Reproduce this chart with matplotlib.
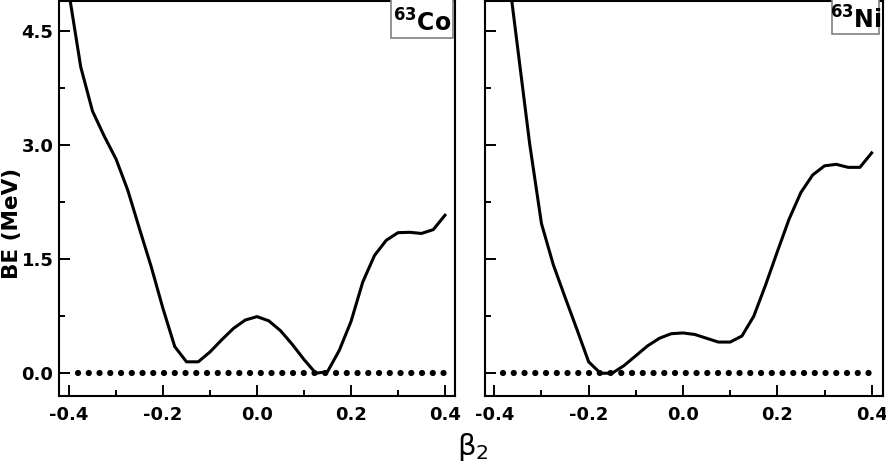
import numpy as np
from matplotlib import pyplot as plt
from matplotlib.patches import Rectangle

# beta_2 grid of the calculation
beta = [-0.4, -0.375, -0.35, -0.325, -0.3, -0.275, -0.25, -0.225, -0.2, -0.175,
        -0.15, -0.125, -0.1, -0.075, -0.05, -0.025, 0.0, 0.025, 0.05, 0.075,
        0.1, 0.125, 0.15, 0.175, 0.2, 0.225, 0.25, 0.275, 0.3, 0.325,
        0.35, 0.375, 0.4]

# 63Co, BE (MeV)
be_co = [5.0, 4.03, 3.45, 3.12, 2.82, 2.41, 1.90, 1.40, 0.85, 0.35,
         0.15, 0.15, 0.28, 0.44, 0.59, 0.70, 0.745, 0.69, 0.56, 0.38,
         0.18, 0.0, 0.02, 0.30, 0.68, 1.20, 1.55, 1.75, 1.85, 1.855,
         1.84, 1.89, 2.08]

# 63Ni, BE (MeV), starts at beta = -0.375
be_ni = [5.5, 4.26, 3.02, 1.97, 1.43, 1.00, 0.58, 0.15, 0.0,
         0.0, 0.10, 0.23, 0.36, 0.46, 0.52, 0.53, 0.51, 0.46, 0.41,
         0.41, 0.49, 0.75, 1.16, 1.60, 2.03, 2.38, 2.61, 2.73, 2.75,
         2.71, 2.71, 2.90]

# zero line (dotted)
zero_x = [-0.381, 0.4]
zero_y = [0.0, 0.0]

labels = [r'$^{\mathbf{63}}$Co', r'$^{\mathbf{63}}$Ni']

plt.rcParams['font.family'] = 'DejaVu Sans'
plt.rcParams['mathtext.fontset'] = 'dejavusans'
plt.rcParams['axes.unicode_minus'] = False

fig = plt.figure(figsize=(8.86, 4.66), dpi=100)
ax1 = fig.add_axes([59 / 886, 70 / 466, 396 / 886, 395 / 466])
ax2 = fig.add_axes([485 / 886, 70 / 466, 398 / 886, 395 / 466])

ax1.plot(beta, be_co, color='black', lw=2.2, zorder=3)
ax2.plot(beta[1:], be_ni, color='black', lw=2.2, zorder=3)

for ax in (ax1, ax2):
    ax.plot(zero_x, zero_y, color='black', lw=4.5, linestyle=(0, (0.01, 1.71)),
            dash_capstyle='round', zorder=2)
    ax.set_ylim(-0.3, 4.9)
    ax.set_xticks([-0.4, -0.2, 0.0, 0.2, 0.4])
    ax.set_xticks([-0.3, -0.1, 0.1, 0.3], minor=True)
    ax.set_yticks([0.0, 1.5, 3.0, 4.5])
    ax.set_yticks([0.75, 2.25, 3.75], minor=True)
    ax.tick_params(which='both', direction='in', top=False, right=False,
                   width=1.4, labelsize=13)
    ax.tick_params(which='major', length=8)
    ax.tick_params(which='minor', length=4.5)
    ax.tick_params(axis='x', pad=7)
    ax.tick_params(axis='y', pad=4)
    for s in ax.spines.values():
        s.set_linewidth(1.5)
    for lab in ax.get_xticklabels() + ax.get_yticklabels():
        lab.set_fontweight('bold')

ax1.set_xlim(-0.4213, 0.4213)
ax2.set_xlim(-0.4197, 0.424)
ax2.tick_params(axis='y', labelleft=False)

# boxes with the nucleus names
ax1.add_patch(Rectangle((0.838, 0.907), 0.157, 0.1, transform=ax1.transAxes,
                        facecolor='white', edgecolor='#808080', lw=1.2, zorder=4, clip_on=False))
ax1.text(0.9165, 0.944, labels[0], transform=ax1.transAxes, ha='center', va='center',
         fontsize=17, fontweight='bold', zorder=5)
ax2.add_patch(Rectangle((0.872, 0.917), 0.118, 0.09, transform=ax2.transAxes,
                        facecolor='white', edgecolor='#808080', lw=1.2, zorder=4, clip_on=False))
ax2.text(0.931, 0.952, labels[1], transform=ax2.transAxes, ha='center', va='center',
         fontsize=17, fontweight='bold', zorder=5)

fig.text(12 / 886, 1 - 223 / 466, 'BE (MeV)', rotation=90, ha='center', va='center',
         fontsize=15.5, fontweight='bold')
fig.text(473 / 886, 1 - 447 / 466, r'β$_{\mathregular{2}}$', ha='center', va='center',
         fontsize=21)

fig.savefig('out.png', dpi=100)
